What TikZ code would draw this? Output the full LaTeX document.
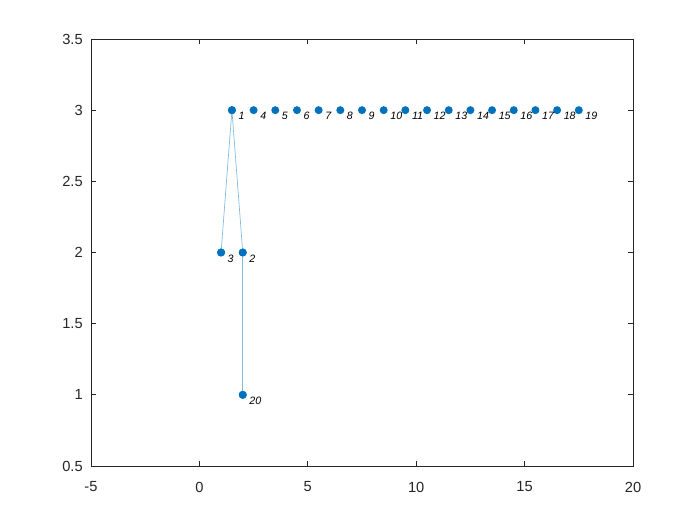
\documentclass[tikz,border=0pt]{standalone}
\usepackage{fontspec}
\setmainfont{Liberation Sans}
\definecolor{mblue}{RGB}{0,114,189}
\definecolor{eblue}{RGB}{128,185,222}
\definecolor{axc}{RGB}{38,38,38}
\tikzset{
  vert/.style={circle,fill=mblue,inner sep=0pt,minimum size=6pt},
  lbl/.style={font=\fontsize{8}{9}\selectfont\itshape,text=black,inner sep=0pt,anchor=west},
  edge/.style={eblue,line width=0.5pt},
  axline/.style={axc,line width=0.6pt},
  ticklab/.style={font=\fontsize{11}{13}\selectfont,text=axc,inner sep=0pt}
}
\begin{document}
\begin{tikzpicture}
\useasboundingbox[fill=white] (0,0) rectangle (525pt,393.75pt);
\begin{scope}[shift={(149.55pt,-9.125pt)},x=16.26pt,y=106.75pt]
  % axes box
  \draw[axline] (-5,0.5) rectangle (20,3.5);
  % x ticks
  \foreach \t in {-5,0,5,10,15,20}{
    \draw[axline] (\t,0.5) -- ++(0,3.75pt);
    \draw[axline] (\t,3.5) -- ++(0,-3.75pt);
    \node[ticklab] (xt\t) at ([yshift=-15.75pt]\t,0.5) {\ifnum\t<0 -\the\numexpr-\t\relax\else\t\fi};
  }
  % y ticks
  \foreach \t/\s in {0.5/0.5,1/1,1.5/1.5,2/2,2.5/2.5,3/3,3.5/3.5}{
    \draw[axline] (-5,\t) -- ++(3.75pt,0);
    \draw[axline] (20,\t) -- ++(-3.75pt,0);
    \node[ticklab,anchor=east] (yt\s) at ([xshift=-6pt]-5,\t) {\s};
  }
  % vertices
  \node[vert] (n1) at (1.5,3) {};
  \node[vert] (n2) at (2,2) {};
  \node[vert] (n3) at (1,2) {};
  \node[vert] (n20) at (2,1) {};
  \foreach \k in {4,...,19}{
    \pgfmathsetmacro{\xx}{\k-1.5}
    \node[vert] (n\k) at (\xx,3) {};
  }
  % edges
  \draw[edge] (n1.center) -- (n3.center);
  \draw[edge] (n1.center) -- (n2.center);
  \draw[edge] (n2.center) -- (n20.center);
  % redraw vertices on top
  \foreach \k in {1,2,3,20}{
    \fill[mblue] (n\k) circle (3pt);
  }
  % labels
  \foreach \k in {1,...,20}{
    \node[lbl] (l\k) at ([shift={(4.8pt,-4.5pt)}]n\k.center) {\k};
  }
\end{scope}
\end{tikzpicture}
\end{document}
